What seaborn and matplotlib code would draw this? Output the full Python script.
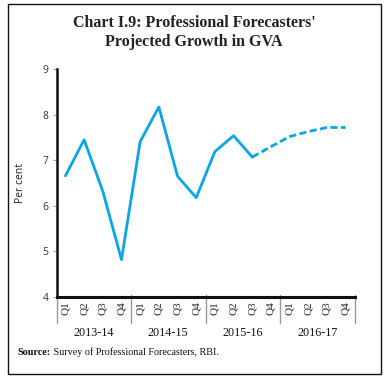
import matplotlib
matplotlib.use("Agg")
import matplotlib.pyplot as plt
from matplotlib.patches import Rectangle
import matplotlib.transforms as mtransforms
import seaborn as sns
import pandas as pd
import numpy as np

# ---- data ----
years = ["2013-14", "2014-15", "2015-16", "2016-17"]
quarters = ["Q1", "Q2", "Q3", "Q4"]
gva_actual = [6.66, 7.45, 6.32, 4.82, 7.41, 8.17, 6.65, 6.18, 7.19, 7.54, 7.07]
gva_projected = [7.07, 7.30, 7.52, 7.63, 7.72, 7.72]
y_ticks = [4, 5, 6, 7, 8, 9]

labels = [q for y in years for q in quarters]
n_act = len(gva_actual)
df_act = pd.DataFrame({"x": np.arange(n_act), "v": gva_actual})
df_proj = pd.DataFrame({"x": np.arange(n_act - 1, n_act - 1 + len(gva_projected)), "v": gva_projected})

sns.set_style("white")
plt.rcParams["font.family"] = ["DejaVu Sans"]

color = "#0AA5E6"
fig = plt.figure(figsize=(3.88, 3.82), dpi=100)
ax = fig.add_axes([0.147, 0.2225, 0.768, 0.5965])

sns.lineplot(data=df_act, x="x", y="v", ax=ax, color=color, linewidth=2.0)
sns.lineplot(data=df_proj, x="x", y="v", ax=ax, color=color, linewidth=2.0, linestyle=(0, (2.6, 1.2)))

ax.set_xlim(-0.45, len(labels) - 0.5)
ax.set_ylim(4, 9)
ax.set_yticks(y_ticks)
ax.set_yticklabels([str(t) for t in y_ticks], fontsize=7.5, color="#333333", family="Open Sans")
ax.tick_params(axis="y", length=3, width=0.6, color="#888888", pad=3, left=True)
ax.set_xticks(np.arange(len(labels)))
ax.set_xticklabels(labels, rotation=90, fontsize=8, family="Liberation Serif", color="#222222")
ax.tick_params(axis="x", length=0, pad=3)
ax.set_xlabel("")
ax.set_ylabel("Per cent", fontsize=7.5, family="Open Sans", color="#222222", labelpad=12)

for s in ["top", "right"]:
    ax.spines[s].set_visible(False)
ax.spines["left"].set_linewidth(1.8)
ax.spines["left"].set_color("#111111")
ax.spines["bottom"].set_linewidth(2.2)
ax.spines["bottom"].set_color("#111111")

# group separators and year labels
trans = mtransforms.blended_transform_factory(ax.transData, ax.transAxes)
for i in range(len(years) + 1):
    xb = i * 4 - 0.5 if i > 0 else -0.45
    ax.plot([xb, xb], [0.01, -0.115], transform=trans, color="#999999", lw=1.0, clip_on=False)
for i, y in enumerate(years):
    ax.text(i * 4 + 1.5, -0.132, y, transform=trans, ha="center", va="top",
            fontsize=8.7, family="Liberation Serif", color="#111111")

# title
fig.text(0.5, 0.915, "Chart I.9: Professional Forecasters'\nProjected Growth in GVA",
         ha="center", va="center", fontsize=11.5, fontweight="bold",
         family="Liberation Serif", color="#222222", linespacing=1.25)

# source
t1 = fig.text(0.046, 0.078, "Source:", fontsize=7.3, fontweight="bold",
              family="Liberation Serif", color="#111111", va="center")
ax.annotate(" Survey of Professional Forecasters, RBI.", xy=(1, 0), xycoords=t1,
            va="bottom", ha="left", fontsize=7.3, family="Liberation Serif", color="#111111",
            annotation_clip=False)

# border
fig.patches.append(Rectangle((0.021, 0.021), 0.961, 0.968, transform=fig.transFigure,
                             fill=False, edgecolor="#111111", linewidth=1.0))

fig.savefig("out.png", dpi=100)
